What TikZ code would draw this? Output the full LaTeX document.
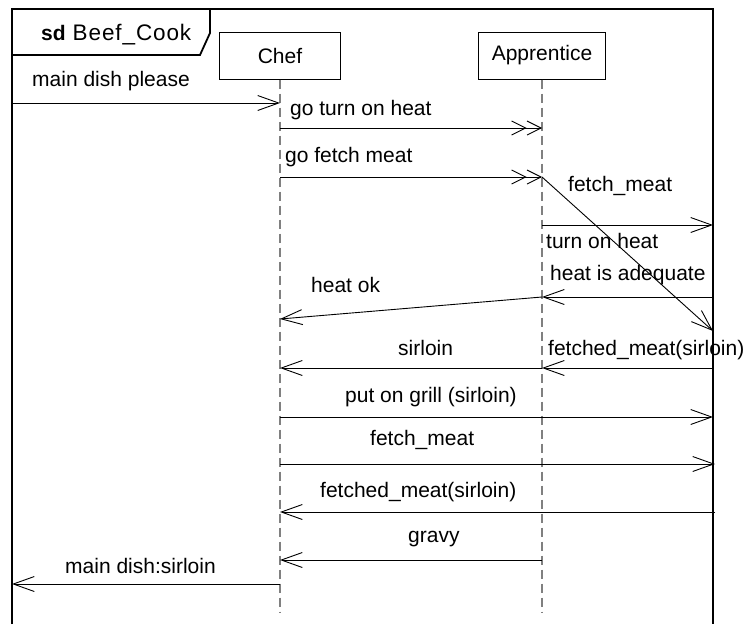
\documentclass[tikz,border=0pt]{standalone}
\usepackage{fontspec}
\setmainfont{Liberation Sans}
\usetikzlibrary{arrows.meta}
\definecolor{lgray}{RGB}{128,128,128}
\begin{document}
\begin{tikzpicture}[x=1pt,y=-1pt,
  lbl/.style={anchor=base west, inner sep=0pt, font=\fontsize{21}{25}\selectfont},
  lifebox/.style={draw, line width=1pt, minimum height=47pt, inner sep=0pt,
    font=\fontsize{21}{25}\selectfont},
  lifeline/.style={draw=lgray, line width=1.2pt, dash pattern=on 9pt off 5pt},
  msg/.style={line width=0.9pt, -{Straight Barb[length=21pt,width=15pt]}},
  amsg/.style={line width=0.9pt,
    -{Straight Barb[length=14pt,width=14pt] Straight Barb[length=14pt,width=14pt]}},
  frameline/.style={line width=1.8pt}]
\useasboundingbox (0,0) rectangle (749,624);

% interaction frame and its name tab
\draw[frameline] (12,624) -- (12,9) -- (713,9) -- (713,624);
\draw[frameline] (12,55) -- (200,55) -- (210,33) -- (210,9);
\node[lbl] (title) at (41,40) {\textbf{sd}\hspace{7pt}{\fontsize{22.5}{26}\selectfont\addfontfeatures{LetterSpace=4}Beef\_Cook}};
\coordinate (fl) at (12,0);
\coordinate (fr) at (713,0);

% lifelines
\node[lifebox, minimum width=121pt] (chef) at (280,55.5) {Chef};
\node[lifebox, minimum width=127pt] (appr) at (542,55.5) {Apprentice};
\coordinate (chefend) at (280,612);
\coordinate (apprend) at (542,612);
\draw[lifeline] (chef.south) -- (chefend);
\draw[lifeline] (appr.south) -- (apprend);

% message rows
\coordinate (r1) at (0,103);
\coordinate (r2) at (0,128);
\coordinate (r3) at (0,177);
\coordinate (r4) at (0,331);
\coordinate (r5) at (0,225);
\coordinate (r6) at (0,297);
\coordinate (r7) at (0,319);
\coordinate (r8) at (0,368);
\coordinate (r9) at (0,417);
\coordinate (r10) at (0,464);
\coordinate (r11) at (0,512);
\coordinate (r12) at (0,560);
\coordinate (r13) at (0,584);

% messages
\draw[msg] (fl |- r1) -- (chef |- r1);
\draw[amsg] (chef |- r2) -- (appr |- r2);
\draw[amsg] (chef |- r3) -- (appr |- r3);
\draw[msg] (appr |- r3) -- (fr |- r4);
\draw[msg] (appr |- r5) -- (fr |- r5);
\draw[msg] (fr |- r6) -- (appr |- r6);
\draw[msg] (appr |- r6) -- (chef |- r7);
\draw[msg] (fr |- r8) -- (appr |- r8);
\draw[msg] (appr |- r8) -- (chef |- r8);
\draw[msg] (chef |- r9) -- (fr |- r9);
\draw[msg] (chef |- r10) -- ([xshift=2pt]fr |- r10);
\draw[msg] ([xshift=2pt]fr |- r11) -- (chef |- r11);
\draw[msg] (appr |- r12) -- (chef |- r12);
\draw[msg] (chef |- r13) -- (fl |- r13);

% message labels
\node[lbl] (l1) at (32,86) {main dish please};
\node[lbl] (l2) at (290,115) {go turn on heat};
\node[lbl] (l3) at (285,162) {go fetch meat};
\node[lbl] (l4) at (568,191) {fetch\_meat};
\node[lbl] (l5) at (546,248) {turn on heat};
\node[lbl] (l6) at (550,280) {heat is adequate};
\node[lbl] (l7) at (311,292) {heat ok};
\node[lbl] (l8) at (548,355) {fetched\_meat(sirloin)};
\node[lbl] (l9) at (398,355) {sirloin};
\node[lbl] (l10) at (345,402) {put on grill (sirloin)};
\node[lbl] (l11) at (370,445) {fetch\_meat};
\node[lbl] (l12) at (320,497) {fetched\_meat(sirloin)};
\node[lbl] (l13) at (408,542) {gravy};
\node[lbl] (l14) at (65,573) {main dish:sirloin};
\end{tikzpicture}
\end{document}
